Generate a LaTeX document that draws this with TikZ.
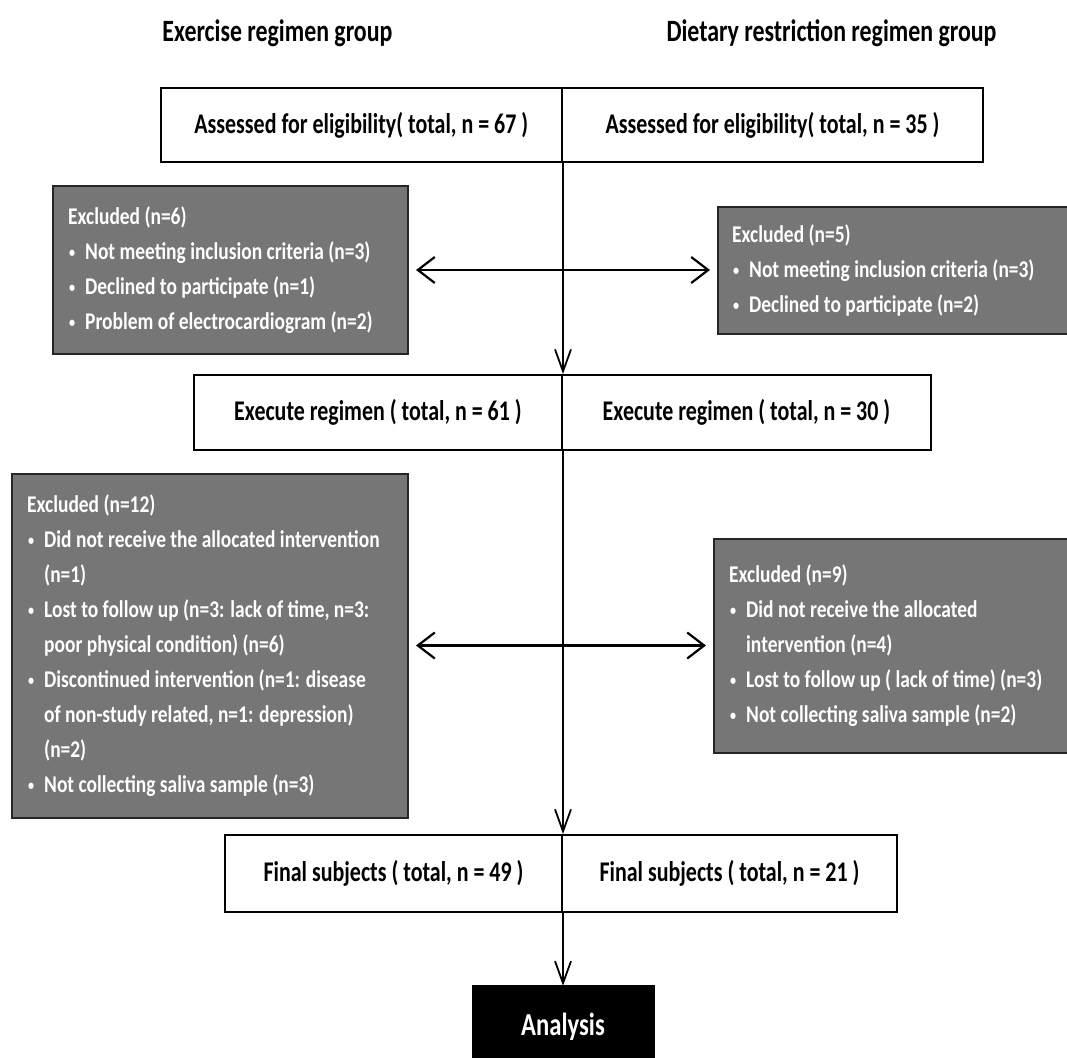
\documentclass[tikz,border=0pt]{standalone}
\usepackage{fontspec}
\setmainfont{Carlito}
\newfontfamily\tfont[FakeStretch=0.77]{Carlito}
\newfontfamily\gfont[FakeStretch=0.81]{Carlito}
\usetikzlibrary{arrows.meta,calc}
\definecolor{boxgray}{RGB}{118,118,118}
\newcommand{\bul}{\makebox[17pt][l]{\hspace{1pt}\raisebox{1.5pt}{\fontsize{15}{15}\selectfont\textbullet}}}
\newcommand{\cont}{\hspace*{17pt}}
\tikzset{
  wbox/.style={draw=black, line width=2pt, fill=white, inner sep=0pt,
    font=\tfont\fontsize{28.5}{32}\selectfont\bfseries},
  gbox/.style={draw=black!85, line width=2pt, fill=boxgray, inner sep=0pt},
  gtext/.style={text=white, align=left, inner sep=0pt, anchor=west,
    font=\gfont\fontsize{24}{35}\selectfont\bfseries},
  ttl/.style={font=\tfont\fontsize{31}{34}\selectfont\bfseries, inner sep=0pt},
  anbox/.style={draw=black, fill=black, inner sep=0pt},
  antxt/.style={text=white, inner sep=0pt, font=\tfont\fontsize{32}{34}\selectfont\bfseries},
  varrow/.style={line width=1.6pt, -{Straight Barb[length=22pt,width=16pt,line width=1.8pt]}},
  harrow/.style={line width=2.4pt, {Straight Barb[length=17pt,width=26pt,line width=2.2pt]}-{Straight Barb[length=17pt,width=26pt,line width=2.2pt]}}
}
\begin{document}
\begin{tikzpicture}[x=1pt,y=-1pt]
\useasboundingbox[fill=white] (0,0) rectangle (1067,1057);

% titles
\node[ttl] (t1) at (277.5,33) {Exercise regimen group};
\node[ttl] (t2) at (831.5,33) {Dietary restriction regimen group};

% top boxes
\node[wbox, minimum width=401.5pt, minimum height=74pt] (tbl) at (361.25,125) {Assessed for eligibility( total, n = 67 )};
\node[wbox, minimum width=421pt, minimum height=74pt] (tbr) at (772.5,125) {Assessed for eligibility( total, n = 35 )};

% execute boxes
\node[wbox, minimum width=368pt, minimum height=75pt] (ebl) at (378,412.5) {Execute regimen ( total, n = 61 )};
\node[wbox, minimum width=369pt, minimum height=75pt] (ebr) at (746.5,412.5) {Execute regimen ( total, n = 30 )};

% final boxes
\node[wbox, minimum width=337pt, minimum height=77pt] (fbl) at (393.5,873.5) {Final subjects ( total, n = 49 )};
\node[wbox, minimum width=335pt, minimum height=77pt] (fbr) at (729.5,873.5) {Final subjects ( total, n = 21 )};

% analysis
\node[anbox, minimum width=182pt, minimum height=90pt] (an) at (563,1030) {};
\node[antxt] (antext) at (563,1027) {Analysis};

% excluded boxes
\node[gbox, minimum width=355pt, minimum height=168pt] (x1l) at (230.5,270) {};
\node[gtext] (x1lt) at ([xshift=16pt]x1l.west) {Excluded (n=6)\\
\bul Not meeting inclusion criteria (n=3)\\
\bul Declined to participate (n=1)\\
\bul Problem of electrocardiogram (n=2)};

\node[gbox, minimum width=360pt, minimum height=127pt] (x1r) at (898,270) {};
\node[gtext] (x1rt) at ([xshift=15pt]x1r.west) {Excluded (n=5)\\
\bul Not meeting inclusion criteria (n=3)\\
\bul Declined to participate (n=2)};

\node[gbox, minimum width=396pt, minimum height=344pt] (x2l) at (210,645.5) {};
\node[gtext] (x2lt) at ([xshift=16pt]x2l.west) {Excluded (n=12)\\
\bul Did not receive the allocated intervention\\
\cont (n=1)\\
\bul Lost to follow up (n=3: lack of time, n=3:\\
\cont poor physical condition) (n=6)\\
\bul Discontinued intervention (n=1: disease\\
\cont of non-study related, n=1: depression)\\
\cont (n=2)\\
\bul Not collecting saliva sample (n=3)};

\node[gbox, minimum width=361pt, minimum height=214pt] (x2r) at (894.5,645.5) {};
\node[gtext] (x2rt) at ([xshift=16pt]x2r.west) {Excluded (n=9)\\
\bul Did not receive the allocated\\
\cont intervention (n=4)\\
\bul Lost to follow up ( lack of time) (n=3)\\
\bul Not collecting saliva sample (n=2)};

% vertical connectors
\draw[varrow] (tbl.south east) -- (ebl.north east);
\draw[varrow] (ebl.south east) -- (fbl.north east);
\draw[varrow] (fbl.south east) -- ([yshift=-1pt]an.north);

% horizontal double arrows
\draw[harrow] ([xshift=7pt]x1l.east) -- ([xshift=-7pt]x1r.west);
\draw[harrow] ([xshift=7pt]x2l.east) -- ([xshift=-7pt]x2r.west);
\end{tikzpicture}
\end{document}
